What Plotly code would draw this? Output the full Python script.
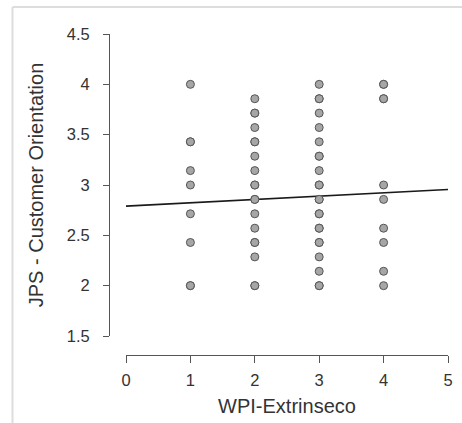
import plotly.graph_objects as go

# JPS - Customer Orientation scores for each WPI-Extrinseco level.
# Repeated values are overlapping respondents.
wpi_levels = [1, 2, 3, 4]
jps_at_1 = [2.0, 2.0, 2.429, 2.714, 3.0, 3.143, 3.429, 3.429, 4.0]
jps_at_2 = [2.0, 2.0, 2.286, 2.429, 2.429, 2.571, 2.714, 2.857, 2.857, 3.0,
            3.0, 3.143, 3.286, 3.429, 3.429, 3.571, 3.714, 3.714, 3.857]
jps_at_3 = [2.0, 2.0, 2.143, 2.286, 2.429, 2.429, 2.571, 2.571, 2.714, 2.714,
            2.857, 2.857, 3.0, 3.0, 3.143, 3.286, 3.286, 3.429, 3.571, 3.714,
            3.857, 3.857, 4.0]
jps_at_4 = [2.0, 2.143, 2.429, 2.571, 2.857, 3.0, 3.857, 3.857, 4.0, 4.0]

# Fitted regression line
fit_intercept = 2.79
fit_slope = 0.033
fit_x = [0, 5]

x_ticks = [0, 1, 2, 3, 4, 5]
y_ticks = [1.5, 2, 2.5, 3, 3.5, 4, 4.5]
y_tick_text = ["1.5", "2", "2.5", "3", "3.5", "4", "4.5"]

wpi_x, jps_y = [], []
for level, scores in zip(wpi_levels, [jps_at_1, jps_at_2, jps_at_3, jps_at_4]):
    wpi_x += [level] * len(scores)
    jps_y += scores

W, H = 462, 423
ML, MR, MT, MB = 109, 14, 34, 68
pw, ph = W - ML - MR, H - MT - MB
x_start_px, y_bottom_px = 126, 336


def px_x(p):
    return (p - ML) / pw


def px_y(p):
    return (H - MB - p) / ph


fig = go.Figure()
fig.add_trace(go.Scatter(
    x=fit_x,
    y=[fit_intercept + fit_slope * v for v in fit_x],
    mode="lines",
    line=dict(color="#1a1a1a", width=1.6),
    hoverinfo="skip",
))
fig.add_trace(go.Scatter(
    x=wpi_x,
    y=jps_y,
    mode="markers",
    marker=dict(size=8, color="#a6a6a6", line=dict(color="#555555", width=1)),
))

font = dict(family="Liberation Sans, Arial, sans-serif", color="#333333")

fig.update_layout(
    width=W,
    height=H,
    margin=dict(l=ML, r=MR, t=MT, b=MB, pad=0),
    paper_bgcolor="white",
    plot_bgcolor="white",
    showlegend=False,
    font=dict(size=16, **font),
    xaxis=dict(
        domain=[px_x(x_start_px), 1],
        range=[0, 5],
        tickvals=x_ticks,
        ticktext=[str(v) for v in x_ticks],
        ticks="outside",
        ticklen=7,
        tickcolor="#555555",
        showline=True,
        linecolor="#555555",
        linewidth=1,
        showgrid=False,
        zeroline=False,
        anchor="free",
        position=0,
        automargin=False,
        ticklabelstandoff=3,
        tickfont=dict(size=16.5, **font),
        title=dict(text="WPI-Extrinseco", font=dict(size=20, **font), standoff=11),
    ),
    yaxis=dict(
        domain=[px_y(y_bottom_px), 1],
        range=[1.5, 4.5],
        tickvals=y_ticks,
        ticktext=y_tick_text,
        ticks="outside",
        ticklen=6,
        tickcolor="#555555",
        showline=True,
        linecolor="#555555",
        linewidth=1,
        showgrid=False,
        zeroline=False,
        anchor="free",
        position=0,
        automargin=False,
        ticklabelstandoff=10,
        tickfont=dict(size=16.5, **font),
        title=dict(text="JPS - Customer Orientation", font=dict(size=20, **font), standoff=16),
    ),
    shapes=[
        dict(type="line", xref="paper", yref="paper",
             x0=px_x(12.5), x1=px_x(W + 2), y0=px_y(7), y1=px_y(7),
             line=dict(color="#dddddd", width=2)),
        dict(type="line", xref="paper", yref="paper",
             x0=px_x(12.5), x1=px_x(12.5), y0=px_y(7), y1=px_y(H + 2),
             line=dict(color="#dddddd", width=2)),
    ],
)

fig.write_html("out.html")
